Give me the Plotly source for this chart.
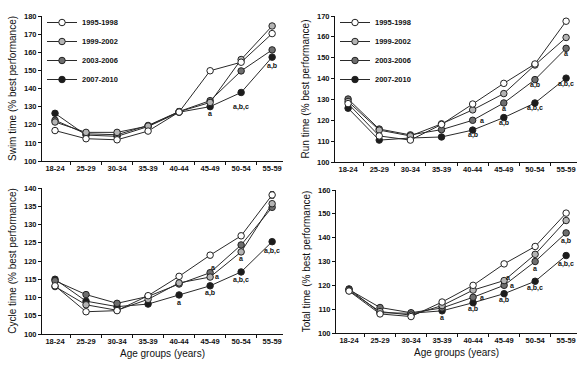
import plotly.graph_objects as go

age_groups = ["18-24", "25-29", "30-34", "35-39", "40-44", "45-49", "50-54", "55-59"]
periods = ["1995-1998", "1999-2002", "2003-2006", "2007-2010"]

swim_1995 = [116.8, 112.3, 111.7, 116.5, 127.0, 149.8, 154.5, 170.3]
swim_1999 = [121.5, 115.8, 115.8, 119.3, 127.2, 132.3, 156.0, 174.5]
swim_2003 = [122.5, 115.0, 114.5, 119.6, 127.3, 133.3, 149.7, 161.3]
swim_2007 = [126.3, 114.3, 113.6, 119.0, 126.9, 130.0, 137.8, 157.3]

run_1995 = [128.0, 112.5, 110.5, 118.0, 127.8, 137.7, 147.0, 167.5]
run_1999 = [129.0, 115.3, 112.5, 118.3, 125.0, 132.8, 146.5, 159.7]
run_2003 = [130.2, 115.8, 113.0, 115.5, 120.0, 128.3, 139.5, 154.5]
run_2007 = [125.8, 110.5, 111.5, 112.0, 115.3, 121.3, 128.3, 140.2]

cycle_1995 = [113.2, 106.1, 106.4, 110.5, 115.8, 121.6, 126.9, 138.1]
cycle_1999 = [113.0, 108.0, 106.5, 109.5, 114.0, 115.6, 122.5, 135.7]
cycle_2003 = [114.6, 110.8, 108.4, 110.3, 113.7, 116.8, 124.4, 134.7]
cycle_2007 = [115.0, 109.0, 107.5, 108.2, 110.7, 113.2, 117.0, 125.3]
cycle_1995_err = [0, 0, 0, 0, 0.6, 0.7, 0.7, 0.9]

total_1995 = [117.6, 108.0, 106.9, 113.0, 120.0, 129.0, 136.3, 150.3]
total_1999 = [117.8, 109.0, 107.5, 111.5, 118.0, 122.0, 133.0, 147.2]
total_2003 = [118.2, 110.7, 108.5, 110.5, 115.0, 120.0, 130.0, 142.0]
total_2007 = [118.5, 108.5, 108.3, 109.3, 112.7, 116.5, 121.7, 132.5]

fill_colors = ["#ffffff", "#b4b4b4", "#6e6e6e", "#1c1c1c"]

W, H = 586, 369

panels = [
    dict(series=[swim_1995, swim_1999, swim_2003, swim_2007], ax="", title="Swim time (% best performance)",
         yrange=[100, 180], dtick=10, px_x=[42, 283], px_y=[16, 161], legend="legend", xtitle=""),
    dict(series=[run_1995, run_1999, run_2003, run_2007], ax="2", title="Run time (% best performance)",
         yrange=[100, 170], dtick=10, px_x=[335, 577], px_y=[16, 162], legend="legend2", xtitle=""),
    dict(series=[cycle_1995, cycle_1999, cycle_2003, cycle_2007], ax="3", title="Cycle time (% best performance)",
         yrange=[100, 140], dtick=5, px_x=[42, 283], px_y=[188, 334], legend=None, xtitle="Age groups (years)"),
    dict(series=[total_1995, total_1999, total_2003, total_2007], ax="4", title="Total time (% best performance)",
         yrange=[100, 160], dtick=10, px_x=[336, 577], px_y=[190, 333], legend=None, xtitle="Age groups (years)"),
]

# significance labels: (panel index, category, y value, text, x shift px)
sig_labels = [
    (0, "45-49", 126.0, "a", 0), (0, "50-54", 130.0, "a,b,c", 0), (0, "55-59", 152.5, "a,b", 0),
    (1, "40-44", 113.0, "a,b", 0), (1, "40-44", 120.0, "a", 9),
    (1, "45-49", 125.8, "a", 0), (1, "45-49", 118.8, "a,b", 0),
    (1, "50-54", 136.8, "a,b", 0), (1, "50-54", 125.7, "a,b,c", 0),
    (1, "55-59", 151.8, "a", 0), (1, "55-59", 137.6, "a,b,c", 0),
    (2, "40-44", 108.7, "a", 0), (2, "45-49", 118.3, "a", 3), (2, "45-49", 115.7, "a", 7),
    (2, "45-49", 111.2, "a,b", 0), (2, "50-54", 120.6, "a", 0), (2, "50-54", 114.9, "a,b,c", 0),
    (2, "55-59", 122.8, "a,b,c", 0),
    (3, "35-39", 106.3, "a", 0), (3, "40-44", 115.0, "a", 9), (3, "40-44", 110.0, "a,b", 0),
    (3, "45-49", 123.3, "a", 4), (3, "45-49", 120.0, "a", 8), (3, "45-49", 114.0, "a,b", 0),
    (3, "50-54", 127.0, "a", 0), (3, "50-54", 118.7, "a,b,c", 0), (3, "55-59", 138.8, "a,b", 0),
    (3, "55-59", 129.0, "a,b,c", 0),
]

FONT = "Liberation Sans, Arial, sans-serif"
fig = go.Figure()

for p in panels:
    ax = p["ax"]
    for i in range(3, -1, -1):
        err = None
        if ax == "3" and i == 0:
            err = dict(type="data", array=cycle_1995_err, color="#222222", thickness=1, width=2)
        fig.add_trace(go.Scatter(
            x=age_groups, y=p["series"][i], name=periods[i], mode="lines+markers",
            xaxis="x" + ax, yaxis="y" + ax,
            line=dict(color="#2a2a2a", width=1),
            marker=dict(symbol="circle", size=6.5, color=fill_colors[i], line=dict(color="#222222", width=1)),
            error_y=err,
            showlegend=p["legend"] is not None,
            legend=p["legend"] if p["legend"] else "legend",
            legendrank=i,
        ))

layout = dict(
    width=W, height=H, margin=dict(l=0, r=0, t=0, b=0, autoexpand=False),
    paper_bgcolor="white", plot_bgcolor="white",
    font=dict(family=FONT, color="#111111"),
    annotations=[],
)

for p in panels:
    ax = p["ax"]
    layout["xaxis" + ax] = dict(
        domain=[p["px_x"][0] / W, p["px_x"][1] / W], anchor="y" + ax, type="category", range=[-0.42, 7.35],
        categoryorder="array", categoryarray=age_groups, automargin=False,
        showline=True, linecolor="#111111", linewidth=1, ticks="outside", ticklen=3,
        tickcolor="#111111", tickson="boundaries", showgrid=False, zeroline=False,
        tickfont=dict(family=FONT, size=7.5, color="#111111", weight="bold"),
        title=dict(text=p["xtitle"], font=dict(family=FONT, size=10, color="#111111"), standoff=4),
    )
    layout["yaxis" + ax] = dict(
        domain=[1 - p["px_y"][1] / H, 1 - p["px_y"][0] / H], anchor="x" + ax, range=p["yrange"],
        dtick=p["dtick"], automargin=False,
        showline=True, linecolor="#111111", linewidth=1, ticks="outside", ticklen=3,
        tickcolor="#111111", showgrid=False, zeroline=False,
        tickfont=dict(family=FONT, size=7.5, color="#111111", weight="bold"),
        title=dict(text=p["title"], font=dict(family=FONT, size=10, color="#111111"), standoff=5),
    )

legend_style = dict(
    bgcolor="rgba(0,0,0,0)", borderwidth=0, tracegroupgap=0, itemwidth=30,
    font=dict(family=FONT, size=7.5, color="#111111", weight="bold"),
    xanchor="left", yanchor="top", traceorder="normal",
)
layout["legend"] = dict(legend_style, x=42 / W, y=1 - 8 / H)
layout["legend2"] = dict(legend_style, x=335 / W, y=1 - 8 / H)

for (pi, cat, yv, txt, dx) in sig_labels:
    ax = panels[pi]["ax"]
    layout["annotations"].append(dict(
        x=cat, y=yv, xref="x" + ax, yref="y" + ax, text=txt, showarrow=False,
        xshift=dx, font=dict(family=FONT, size=7, color="#111111", weight="bold"),
    ))

fig.update_layout(**layout)
fig.write_html("out.html", config={"displayModeBar": False},
               post_script="document.body.style.margin='0';")
